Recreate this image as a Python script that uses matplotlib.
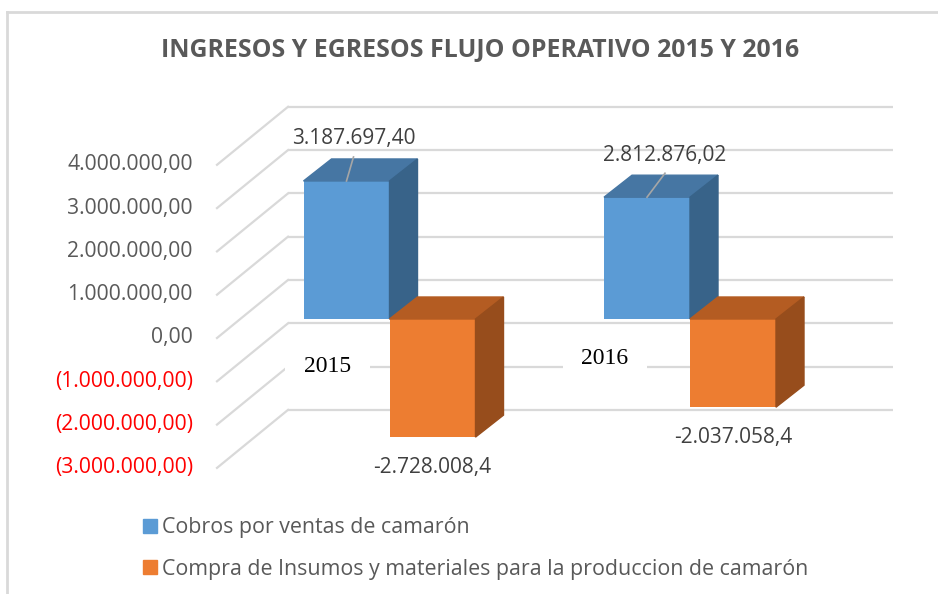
import matplotlib
matplotlib.use('Agg')
import matplotlib.pyplot as plt
from matplotlib.patches import Polygon, Patch
from matplotlib.lines import Line2D

plt.rcParams['font.family'] = ['Open Sans', 'DejaVu Sans']

# data
years = ['2015', '2016']
cobros = [3187697.40, 2812876.02]
compras = [-2728008.4, -2037058.4]
ticks = [4000000, 3000000, 2000000, 1000000, 0, -1000000, -2000000, -3000000]
series_names = ['Cobros por ventas de camarón',
                'Compra de Insumos y materiales para la produccion de camarón']

title = 'INGRESOS Y EGRESOS FLUJO OPERATIVO 2015 Y 2016'


def fmt_es(v, dec):
    s = f'{abs(v):,.{dec}f}'
    s = s.replace(',', 'X').replace('.', ',').replace('X', '.')
    return s


def fmt_tick(v):
    s = fmt_es(v, 2)
    return f'({s})' if v < 0 else s


# layout (pixels) -> values
W, H = 938, 594
zero_px = 319          # bar front plane zero line (from top)
ppm = 43.3             # pixels per 1.000.000
PX = 1e6 / ppm         # value per pixel

fig = plt.figure(figsize=(W / 100, H / 100), dpi=100)
ax = fig.add_axes([0, 0, 1, 1])
ax.set_xlim(0, W)
ax.set_ylim((zero_px - H) * PX, zero_px * PX)
ax.axis('off')

grid_c = '#d9d9d9'
back_dy = 39 * PX
lab_dy = -19 * PX

# back wall gridlines + side wall diagonals + tick labels
for t in ticks:
    ax.plot([288, 893], [t + back_dy] * 2, color=grid_c, lw=1.6, zorder=1,
            solid_capstyle='butt')
    ax.plot([217, 288], [t + lab_dy, t + back_dy], color=grid_c, lw=1.6, zorder=1)
    ax.text(193, t + lab_dy, fmt_tick(t), ha='right', va='center', fontsize=15.2,
            color='#ff0000' if t < 0 else '#595959')

# bars
bw = 86
dx, dz = 28, 22 * PX
centers = [389.5 + i * 300.5 for i in range(len(years))]
blue = ['#5b9bd5', '#4676a3', '#386389']
orange = ['#ed7d31', '#b45c22', '#974d1c']

for xc, v in zip(centers, cobros):
    l, r = xc - bw, xc
    ax.bar(l, v, width=bw, align='edge', color=blue[0], zorder=3)
    ax.add_patch(Polygon([(l, v), (r, v), (r + dx, v + dz), (l + dx, v + dz)],
                         color=blue[1], zorder=3))
    ax.add_patch(Polygon([(r, 0), (r, v), (r + dx, v + dz), (r + dx, dz)],
                         color=blue[2], zorder=3))

for xc, v in zip(centers, compras):
    l, r = xc, xc + bw
    ax.bar(l, v, width=bw, align='edge', color=orange[0], zorder=4)
    ax.add_patch(Polygon([(l, 0), (r, 0), (r + dx, dz), (l + dx, dz)],
                         color=orange[1], zorder=4))
    ax.add_patch(Polygon([(r, v), (r, 0), (r + dx, dz), (r + dx, v + dz)],
                         color=orange[2], zorder=4))

# data labels
lbl_c = '#404040'
lead_dx = [7, 18]
for xc, v, ldx in zip(centers, cobros, lead_dx):
    bc = xc - bw / 2
    ax.plot([bc, bc + ldx], [v, v + 24 * PX], color='#a6a6a6', lw=1.2, zorder=5)
    ax.text(bc + ldx, v + 42 * PX, fmt_es(v, 2), ha='center', va='center',
            fontsize=15, color=lbl_c, zorder=6)

for xc, v in zip(centers, compras):
    bc = xc + bw / 2
    ax.text(bc, v - 30 * PX, '-' + fmt_es(v, 1), ha='center', va='center',
            fontsize=15, color=lbl_c, zorder=6)

# category labels
cat_dx = [-62, -85]
cat_dy = [-48, -39]
for xc, name, cdx, cdy in zip(centers, years, cat_dx, cat_dy):
    ax.text(xc + cdx, cdy * PX, name, ha='center', va='center', fontsize=17,
            family='Liberation Serif', color='black', zorder=2,
            bbox=dict(boxstyle='square,pad=0.8', fc='white', ec='none'))

# title
fig.text(480 / W, 1 - 50 / H, title, ha='center', va='center', fontsize=17.9,
         fontweight='bold', color='#595959')

# legend
handles = [Patch(color=blue[0]), Patch(color=orange[0])]
fig.legend(handles, series_names, loc='upper left',
           bbox_to_anchor=(124 / W, 1 - 498 / H), frameon=False, fontsize=15.4,
           handlelength=0.62, handleheight=0.62, handletextpad=0.25,
           labelspacing=0.95, labelcolor='#595959')

# chart border
fig.add_artist(Line2D([7 / W, 1], [1 - 12 / H] * 2, transform=fig.transFigure,
                      color=grid_c, lw=2))
fig.add_artist(Line2D([7 / W, 7 / W], [0, 1 - 12 / H], transform=fig.transFigure,
                      color=grid_c, lw=2))

fig.savefig('out.png', dpi=100, facecolor='white')
